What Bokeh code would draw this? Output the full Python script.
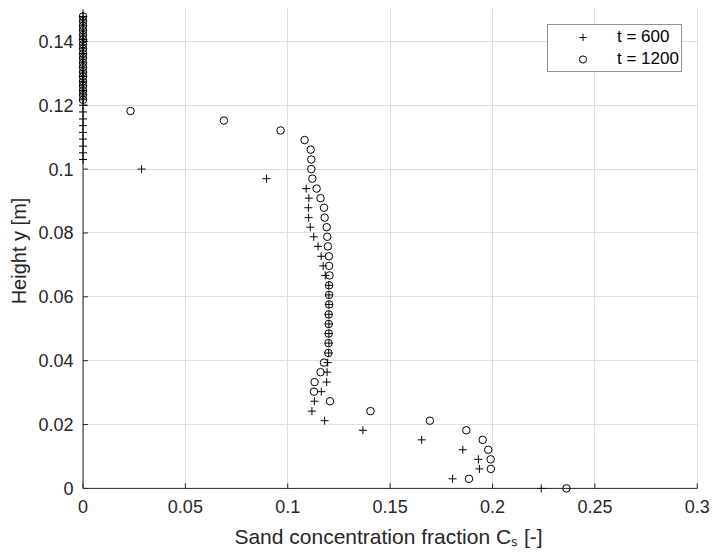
from bokeh.plotting import figure
from bokeh.models import FixedTicker, Legend, LegendItem, Range1d, BoxAnnotation
from bokeh.embed import file_html
from bokeh.resources import INLINE

# ---- data ----
# t = 600 (plus markers)
y_600 = [0.0000, 0.0030, 0.0061, 0.0091, 0.0121, 0.0152, 0.0182, 0.0212, 0.0242, 0.0273,
         0.0303, 0.0333, 0.0364, 0.0394, 0.0424, 0.0455, 0.0485, 0.0515, 0.0545, 0.0576,
         0.0606, 0.0636, 0.0667, 0.0697, 0.0727, 0.0758, 0.0788, 0.0818, 0.0848, 0.0879,
         0.0909, 0.0939, 0.0970, 0.1000,
         0.1030, 0.1051, 0.1072, 0.1094, 0.1115, 0.1136, 0.1157, 0.1179, 0.1200,
         0.1217, 0.1232, 0.1246, 0.1261, 0.1275, 0.1290, 0.1304, 0.1319, 0.1333, 0.1348,
         0.1362, 0.1377, 0.1391, 0.1406, 0.1420, 0.1435, 0.1449, 0.1464, 0.1478]
c_600 = [0.2238, 0.1805, 0.1936, 0.1931, 0.1855, 0.1654, 0.1367, 0.1180, 0.1118, 0.1130,
         0.1164, 0.1190, 0.1192, 0.1195, 0.1200, 0.1201, 0.1201, 0.1201, 0.1201, 0.1201,
         0.1201, 0.1200, 0.1183, 0.1173, 0.1163, 0.1148, 0.1127, 0.1110, 0.1102, 0.1101,
         0.1103, 0.1090, 0.0896, 0.0286,
         0.0, 0.0, 0.0, 0.0, 0.0, 0.0, 0.0, 0.0, 0.0,
         0.0, 0.0, 0.0, 0.0, 0.0, 0.0, 0.0, 0.0, 0.0, 0.0,
         0.0, 0.0, 0.0, 0.0, 0.0, 0.0, 0.0, 0.0, 0.0]

# t = 1200 (circle markers)
y_1200 = [0.0000, 0.0030, 0.0061, 0.0091, 0.0121, 0.0152, 0.0182, 0.0212, 0.0242, 0.0273,
          0.0303, 0.0333, 0.0364, 0.0394, 0.0424, 0.0455, 0.0485, 0.0515, 0.0545, 0.0576,
          0.0606, 0.0636, 0.0667, 0.0697, 0.0727, 0.0758, 0.0788, 0.0818, 0.0848, 0.0879,
          0.0909, 0.0939, 0.0970, 0.1000, 0.1030, 0.1061, 0.1091, 0.1121, 0.1152, 0.1182,
          0.1217, 0.1232, 0.1246, 0.1261, 0.1275, 0.1290, 0.1304, 0.1319, 0.1333, 0.1348,
          0.1362, 0.1377, 0.1391, 0.1406, 0.1420, 0.1435, 0.1449, 0.1464, 0.1478]
c_1200 = [0.2361, 0.1885, 0.1992, 0.1991, 0.1979, 0.1952, 0.1872, 0.1694, 0.1404, 0.1206,
          0.1128, 0.1131, 0.1160, 0.1177, 0.1198, 0.1199, 0.1200, 0.1200, 0.1200, 0.1202,
          0.1202, 0.1202, 0.1204, 0.1202, 0.1201, 0.1196, 0.1193, 0.1190, 0.1180, 0.1177,
          0.1160, 0.1141, 0.1120, 0.1115, 0.1115, 0.1112, 0.1082, 0.0965, 0.0688, 0.0232,
          0.0, 0.0, 0.0, 0.0, 0.0, 0.0, 0.0, 0.0, 0.0, 0.0,
          0.0, 0.0, 0.0, 0.0, 0.0, 0.0, 0.0, 0.0, 0.0]

x_lim = (0, 0.3)
y_lim = (0, 0.15)
x_ticks = [0, 0.05, 0.1, 0.15, 0.2, 0.25, 0.3]
x_tick_labels = ["0", "0.05", "0.1", "0.15", "0.2", "0.25", "0.3"]
y_ticks = [0, 0.02, 0.04, 0.06, 0.08, 0.1, 0.12, 0.14]
y_tick_labels = ["0", "0.02", "0.04", "0.06", "0.08", "0.1", "0.12", "0.14"]
series_labels = ["t = 600", "t = 1200"]
x_title = "Sand concentration fraction C\u209b [-]"
y_title = "Height y [m]"

FONT = "Liberation Sans"
AX = "#262626"

FW, FH = 620, 485
xr = Range1d(x_lim[0] - 0.0022, x_lim[1] + 0.0006)   # small room so markers on the axes stay whole
yr = Range1d(y_lim[0] - 0.0016, y_lim[1] + 0.0003)
px_x = FW / (xr.end - xr.start)    # pixels per data unit
px_y = FH / (yr.end - yr.start)

p = figure(frame_width=FW, frame_height=FH, output_backend="svg", toolbar_location=None,
           x_range=xr, y_range=yr,
           min_border_left=78, min_border_right=15, min_border_top=8, min_border_bottom=64)
p.outline_line_color = None
p.background_fill_color = "white"
p.border_fill_color = "white"

p.xgrid.ticker = FixedTicker(ticks=x_ticks)
p.ygrid.ticker = FixedTicker(ticks=y_ticks)
p.grid.grid_line_color = "#dedede"
p.grid.grid_line_width = 1

# white strips hiding the grid outside the axes box
p.add_layout(BoxAnnotation(right=x_lim[0], fill_color="white", fill_alpha=1, line_color=None, level="underlay"))
p.add_layout(BoxAnnotation(top=y_lim[0], fill_color="white", fill_alpha=1, line_color=None, level="underlay"))

# axis lines through the origin and inward tick marks
p.segment(x0=[x_lim[0], x_lim[0]], y0=[y_lim[0], y_lim[0]], x1=[x_lim[0], x_lim[1]], y1=[y_lim[1], y_lim[0]],
          line_color=AX, line_width=1)
p.segment(x0=x_ticks, y0=[y_lim[0]] * len(x_ticks), x1=x_ticks, y1=[y_lim[0] + 5 / px_y] * len(x_ticks),
          line_color=AX, line_width=1)
p.segment(x0=[x_lim[0]] * len(y_ticks), y0=y_ticks, x1=[x_lim[0] + 5 / px_x] * len(y_ticks), y1=y_ticks,
          line_color=AX, line_width=1)

r600 = p.scatter(c_600, y_600, marker="cross", size=8, line_color="black", line_width=1)
r1200 = p.scatter(c_1200, y_1200, marker="circle", size=7.5, line_color="black",
                  fill_color=None, line_width=1)

for ax, ticks, labels in ((p.xaxis[0], x_ticks, x_tick_labels), (p.yaxis[0], y_ticks, y_tick_labels)):
    ax.ticker = FixedTicker(ticks=ticks)
    ax.major_label_overrides = {t: l for t, l in zip(ticks, labels)}
    ax.axis_line_color = None
    ax.major_tick_line_color = None
    ax.minor_tick_line_color = None
    ax.major_tick_in = 0
    ax.major_tick_out = 0
    ax.minor_tick_in = 0
    ax.minor_tick_out = 0
    ax.major_label_text_font = FONT
    ax.major_label_text_font_size = "18px"
    ax.major_label_text_color = AX
    ax.axis_label_text_font = FONT
    ax.axis_label_text_font_style = "normal"
    ax.axis_label_text_color = AX

p.xaxis.axis_label_text_font_size = "21px"
p.yaxis.axis_label_text_font_size = "20px"
p.xaxis.major_label_standoff = 6
p.yaxis.major_label_standoff = 5
p.xaxis.axis_label = x_title
p.yaxis.axis_label = y_title
p.xaxis.axis_label_standoff = 9
p.yaxis.axis_label_standoff = 5

legend = Legend(items=[LegendItem(label=series_labels[0], renderers=[r600]),
                       LegendItem(label=series_labels[1], renderers=[r1200])],
                location=(469, 421))
legend.padding = 2
legend.spacing = 2
legend.margin = 0
legend.glyph_width = 65
legend.glyph_height = 18
legend.label_standoff = 2
legend.label_text_font = FONT
legend.label_text_font_size = "17px"
legend.label_text_color = "black"
legend.border_line_color = AX
legend.border_line_width = 1
legend.background_fill_color = "white"
legend.background_fill_alpha = 1
p.add_layout(legend)

open("out.html", "w").write(file_html(p, INLINE))
